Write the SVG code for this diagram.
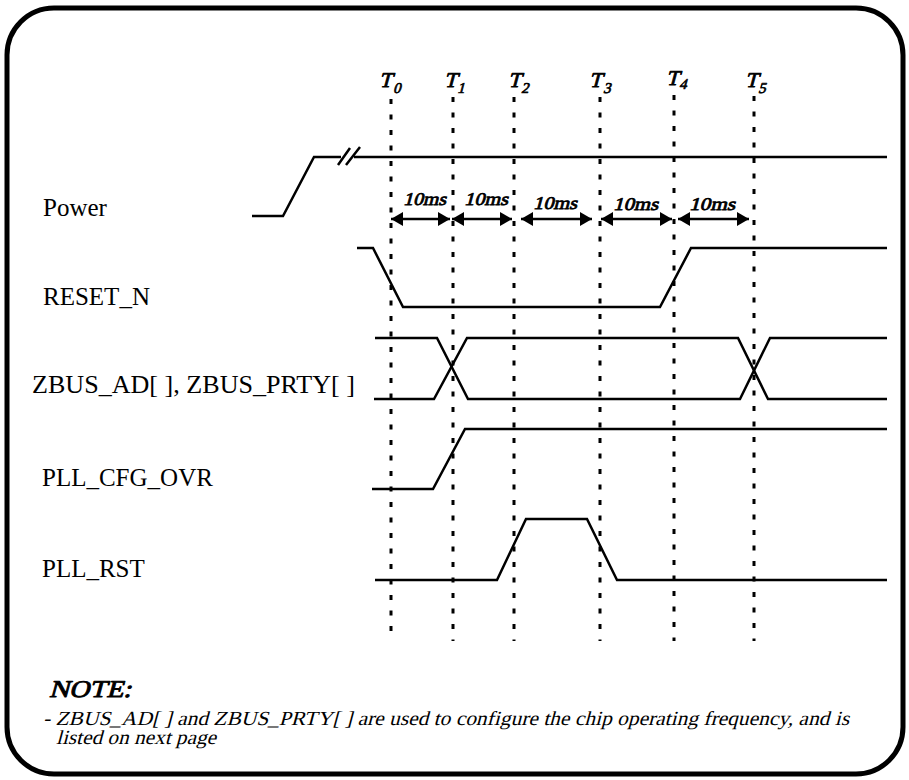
<svg xmlns="http://www.w3.org/2000/svg" width="909" height="780" viewBox="0 0 909 780">
<style>
.sig{fill:none;stroke:#000;stroke-width:2.5;stroke-linejoin:miter}
.dash{fill:none;stroke:#000;stroke-width:3;stroke-dasharray:5 10.5}
.lbl{font-family:"Liberation Serif","Times New Roman",serif;font-size:25px;fill:#000}
.bi{font-family:"Liberation Serif","Times New Roman",serif;fill:#000;stroke:#000;stroke-linejoin:round}
.tt{font-size:21px;stroke-width:0.9px}
.ts{font-size:15px;stroke-width:0.7px}
.ms{font-size:18px;stroke-width:0.8px}
.nt{font-size:24px;stroke-width:0.9px}
.note{font-family:"Liberation Serif","Times New Roman",serif;font-size:20px;fill:#000}
.arr{fill:none;stroke:#000;stroke-width:2.5;marker-start:url(#ah);marker-end:url(#ah)}
</style>
<defs>
<marker id="ah" markerUnits="userSpaceOnUse" markerWidth="14" markerHeight="16" viewBox="0 -8 14 16" refX="12" refY="0" orient="auto-start-reverse">
<path d="M0,-7 L12,0 L0,7 Z" fill="#000"/>
</marker>
</defs>
<rect id="frame" x="7" y="8" width="896" height="766" rx="47" ry="47" fill="#fff" stroke="#000" stroke-width="5"/>

<g id="time-markers">
<line class="dash" x1="391" y1="99" x2="391" y2="641"/>
<line class="dash" x1="453" y1="97" x2="453" y2="641"/>
<line class="dash" x1="514" y1="97" x2="514" y2="641"/>
<line class="dash" x1="600" y1="97" x2="600" y2="641"/>
<line class="dash" x1="674" y1="95" x2="674" y2="641"/>
<line class="dash" x1="754" y1="96" x2="754" y2="641"/>
</g>

<g id="time-labels">
<text class="bi tt" transform="translate(379,87) skewX(-15)">T</text><text class="bi ts" transform="translate(393,93) skewX(-15)">0</text>
<text class="bi tt" transform="translate(444,87) skewX(-15)">T</text><text class="bi ts" transform="translate(457,93) skewX(-15)">1</text>
<text class="bi tt" transform="translate(508,87) skewX(-15)">T</text><text class="bi ts" transform="translate(521,93) skewX(-15)">2</text>
<text class="bi tt" transform="translate(589,87) skewX(-15)">T</text><text class="bi ts" transform="translate(603,93) skewX(-15)">3</text>
<text class="bi tt" transform="translate(666,85) skewX(-15)">T</text><text class="bi ts" transform="translate(679,89) skewX(-15)">4</text>
<text class="bi tt" transform="translate(745,87) skewX(-15)">T</text><text class="bi ts" transform="translate(758,93) skewX(-15)">5</text>
</g>

<g id="intervals">
<line class="arr" x1="391" y1="219" x2="450" y2="219"/>
<line class="arr" x1="452" y1="219" x2="512" y2="219"/>
<line class="arr" x1="521" y1="219" x2="592" y2="219"/>
<line class="arr" x1="601" y1="219" x2="672" y2="219"/>
<line class="arr" x1="678" y1="219" x2="749" y2="219"/>
<text class="bi ms" transform="translate(403,205) skewX(-15)" textLength="43" lengthAdjust="spacingAndGlyphs">10ms</text>
<text class="bi ms" transform="translate(464,205) skewX(-15)" textLength="44" lengthAdjust="spacingAndGlyphs">10ms</text>
<text class="bi ms" transform="translate(533,209) skewX(-15)" textLength="44" lengthAdjust="spacingAndGlyphs">10ms</text>
<text class="bi ms" transform="translate(613,210) skewX(-15)" textLength="45" lengthAdjust="spacingAndGlyphs">10ms</text>
<text class="bi ms" transform="translate(689,210) skewX(-15)" textLength="46" lengthAdjust="spacingAndGlyphs">10ms</text>
</g>

<g id="power">
<text class="lbl" x="43" y="216">Power</text>
<path class="sig" d="M252,216 H283 L314,157 H341 M354,157 H887"/>
<path class="sig" d="M338,165 L350,148 M346,165 L360,147"/>
</g>

<g id="reset_n">
<text class="lbl" x="43" y="305">RESET_N</text>
<path class="sig" d="M357,248 H373 L403,307 H660 L691,248 H887"/>
</g>

<g id="zbus">
<text class="lbl" x="32" y="393" textLength="323" lengthAdjust="spacingAndGlyphs">ZBUS_AD[ ], ZBUS_PRTY[ ]</text>
<path class="sig" d="M375,338 H437 L468,399 H740 L770,338 H887"/>
<path class="sig" d="M374,399 H434 L467,338 H738 L768,399 H887"/>
</g>

<g id="pll_cfg_ovr">
<text class="lbl" x="42" y="486">PLL_CFG_OVR</text>
<path class="sig" d="M372,489 H433 L465,429 H887"/>
</g>

<g id="pll_rst">
<text class="lbl" x="42" y="577">PLL_RST</text>
<path class="sig" d="M375,580 H497 L526,519 H587 L617,580 H887"/>
</g>

<g id="note">
<text class="bi nt" transform="translate(49,697) skewX(-15)" textLength="82" lengthAdjust="spacingAndGlyphs">NOTE:</text>
<text class="note" transform="translate(43,725) skewX(-15)" textLength="806" lengthAdjust="spacingAndGlyphs">- ZBUS_AD[ ] and ZBUS_PRTY[ ] are used to configure the chip operating frequency, and is</text>
<text class="note" transform="translate(56,744) skewX(-15)" textLength="160" lengthAdjust="spacingAndGlyphs">listed on next page</text>
</g>
</svg>
